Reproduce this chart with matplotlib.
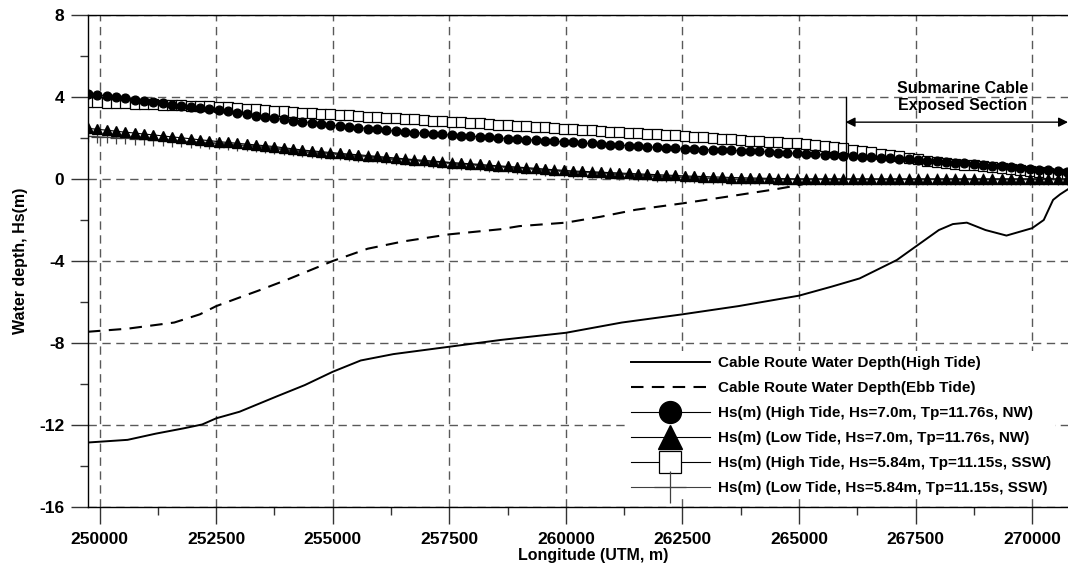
import numpy as np
import matplotlib
matplotlib.use("Agg")
import matplotlib.pyplot as plt
from matplotlib.ticker import MultipleLocator

plt.rcParams['font.family'] = ['Liberation Sans', 'DejaVu Sans']
plt.rcParams['font.weight'] = 'bold'
plt.rcParams['axes.unicode_minus'] = False

# Hs stations (UTM easting, every 200 m)
hs_x = np.arange(249750, 270751, 200)

hs_high_nw = [4.15, 4.10, 4.04, 3.99, 3.93, 3.87, 3.81, 3.74, 3.68, 3.63,
              3.58, 3.52, 3.47, 3.41, 3.36, 3.29, 3.23, 3.16, 3.09, 3.03,
              2.96, 2.90, 2.85, 2.79, 2.74, 2.68, 2.63, 2.58, 2.54, 2.50,
              2.46, 2.42, 2.37, 2.33, 2.29, 2.26, 2.23, 2.20, 2.17, 2.14,
              2.11, 2.08, 2.06, 2.03, 2.00, 1.97, 1.95, 1.92, 1.89, 1.86,
              1.84, 1.81, 1.78, 1.75, 1.73, 1.70, 1.67, 1.65, 1.62, 1.59,
              1.57, 1.54, 1.51, 1.49, 1.46, 1.45, 1.43, 1.42, 1.40, 1.39,
              1.37, 1.36, 1.34, 1.32, 1.29, 1.27, 1.25, 1.22, 1.20, 1.17,
              1.15, 1.12, 1.10, 1.07, 1.05, 1.02, 1.00, 0.97, 0.95, 0.92,
              0.89, 0.86, 0.82, 0.79, 0.76, 0.72, 0.68, 0.65, 0.61, 0.57,
              0.53, 0.50, 0.46, 0.42, 0.39, 0.35]

hs_low_nw = [2.47, 2.42, 2.38, 2.33, 2.28, 2.24, 2.19, 2.15, 2.10, 2.05,
             2.01, 1.96, 1.91, 1.87, 1.82, 1.78, 1.74, 1.70, 1.66, 1.62,
             1.58, 1.52, 1.47, 1.41, 1.37, 1.33, 1.29, 1.25, 1.21, 1.18,
             1.14, 1.10, 1.06, 1.02, 0.98, 0.94, 0.91, 0.87, 0.84, 0.80,
             0.77, 0.74, 0.71, 0.67, 0.64, 0.61, 0.58, 0.55, 0.52, 0.48,
             0.45, 0.42, 0.39, 0.37, 0.35, 0.33, 0.31, 0.29, 0.27, 0.25,
             0.23, 0.21, 0.19, 0.17, 0.15, 0.13, 0.12, 0.10, 0.09, 0.07,
             0.06, 0.05, 0.04, 0.03, 0.02, 0.01, 0.00, 0.00, 0.00, 0.00,
             0.00, 0.00, 0.00, 0.00, 0.00, 0.00, 0.00, 0.00, 0.00, 0.00,
             0.00, 0.00, 0.00, 0.00, 0.00, 0.00, 0.00, 0.00, 0.00, 0.00,
             0.00, 0.00, 0.00, 0.00, 0.00, 0.00]

hs_high_ssw = [3.75, 3.73, 3.72, 3.70, 3.68, 3.67, 3.65, 3.64, 3.62, 3.60,
               3.59, 3.57, 3.55, 3.54, 3.52, 3.49, 3.45, 3.42, 3.39, 3.35,
               3.32, 3.29, 3.26, 3.24, 3.21, 3.18, 3.15, 3.12, 3.10, 3.07,
               3.04, 3.01, 2.99, 2.96, 2.93, 2.90, 2.88, 2.85, 2.83, 2.80,
               2.77, 2.74, 2.71, 2.68, 2.65, 2.62, 2.60, 2.57, 2.54, 2.51,
               2.48, 2.45, 2.42, 2.39, 2.37, 2.34, 2.31, 2.29, 2.26, 2.23,
               2.21, 2.18, 2.15, 2.13, 2.10, 2.07, 2.03, 2.00, 1.96, 1.93,
               1.89, 1.86, 1.84, 1.81, 1.79, 1.76, 1.74, 1.69, 1.64, 1.60,
               1.55, 1.50, 1.43, 1.36, 1.30, 1.23, 1.16, 1.10, 1.03, 0.96,
               0.90, 0.85, 0.80, 0.75, 0.70, 0.66, 0.61, 0.57, 0.52, 0.48,
               0.43, 0.39, 0.34, 0.30, 0.26, 0.22]

hs_low_ssw = [2.08, 2.06, 2.03, 2.01, 1.99, 1.96, 1.94, 1.91, 1.89, 1.87,
              1.84, 1.82, 1.80, 1.77, 1.75, 1.71, 1.67, 1.64, 1.60, 1.56,
              1.52, 1.47, 1.41, 1.36, 1.32, 1.29, 1.25, 1.21, 1.17, 1.14,
              1.10, 1.06, 1.02, 0.99, 0.95, 0.91, 0.88, 0.84, 0.81, 0.77,
              0.74, 0.71, 0.68, 0.64, 0.61, 0.58, 0.55, 0.52, 0.49, 0.45,
              0.42, 0.39, 0.36, 0.34, 0.32, 0.30, 0.27, 0.25, 0.23, 0.21,
              0.19, 0.16, 0.14, 0.12, 0.10, 0.08, 0.06, 0.04, 0.02, 0.00,
              0.00, 0.00, 0.00, 0.00, 0.00, 0.00, 0.00, 0.00, 0.00, 0.00,
              0.00, 0.00, 0.00, 0.00, 0.00, 0.00, 0.00, 0.00, 0.00, 0.00,
              0.00, 0.00, 0.00, 0.00, 0.00, 0.00, 0.00, 0.00, 0.00, 0.00,
              0.00, 0.00, 0.00, 0.00, 0.00, 0.00]

# cable route water depth (high tide)
depth_high_x = [249750, 250600, 251200, 251800, 252200, 252500, 253000, 253800,
                254400, 255000, 255600, 256300, 257500, 258600, 260000, 261200,
                262500, 263700, 265000, 265700, 266300, 267100, 267500, 268000,
                268300, 268600, 269000, 269450, 270000, 270250, 270450, 270600,
                270770]
depth_high = [-12.85, -12.72, -12.42, -12.16, -11.97, -11.67, -11.35, -10.6,
              -10.05, -9.4, -8.85, -8.54, -8.18, -7.85, -7.5, -7.0,
              -6.6, -6.2, -5.69, -5.25, -4.85, -3.95, -3.3, -2.49,
              -2.2, -2.13, -2.49, -2.76, -2.4, -2.0, -1.02, -0.75,
              -0.5]

# cable route water depth (ebb tide)
depth_ebb_x = [249750, 250600, 251600, 252150, 252500, 253000, 253400, 254000,
               255000, 255750, 256500, 257500, 258600, 259000, 260000, 260750,
               261500, 262500, 263500, 264500, 265000, 265300]
depth_ebb = [-7.45, -7.3, -7.0, -6.6, -6.2, -5.78, -5.45, -4.93,
             -4.0, -3.4, -3.05, -2.7, -2.45, -2.3, -2.13, -1.84,
             -1.5, -1.19, -0.85, -0.5, -0.3, -0.12]

exposed_start = 266000
exposed_end = 270770

fig = plt.figure(figsize=(10.68, 5.73), dpi=100)
ax = fig.add_axes([0.0824, 0.115, 0.9176, 0.859])

ax.plot(depth_high_x, depth_high, color='black', lw=1.4,
        label='Cable Route Water Depth(High Tide)')
ax.plot(depth_ebb_x, depth_ebb, color='black', lw=1.5, dashes=(6, 4),
        label='Cable Route Water Depth(Ebb Tide)')
ax.plot(hs_x, hs_high_ssw, color='black', lw=0.8, marker='s', ms=6.5,
        mfc='white', mec='black', mew=0.9,
        label='Hs(m) (High Tide, Hs=5.84m, Tp=11.15s, SSW)')
ax.plot(hs_x, hs_low_ssw, color='0.25', lw=0.8, marker='+', ms=9, mew=0.9,
        label='Hs(m) (Low Tide, Hs=5.84m, Tp=11.15s, SSW)')
ax.plot(hs_x, hs_high_nw, color='black', lw=0.8, marker='o', ms=6.3,
        label='Hs(m) (High Tide, Hs=7.0m, Tp=11.76s, NW)')
ax.plot(hs_x, hs_low_nw, color='black', lw=0.8, marker='^', ms=7,
        label='Hs(m) (Low Tide, Hs=7.0m, Tp=11.76s, NW)')

# exposed section annotation
ax.plot([exposed_start, exposed_start], [0, 4], color='black', lw=1)
ax.annotate('', xy=(exposed_end, 2.77), xytext=(exposed_start, 2.77),
            arrowprops=dict(arrowstyle='<|-|>', color='black', lw=1,
                            mutation_scale=14, shrinkA=0, shrinkB=0),
            annotation_clip=False)
ax.text(268500, 4.0, 'Submarine Cable\nExposed Section', ha='center',
        va='center', fontsize=11.5, fontweight='bold', linespacing=1.2)

ax.set_xlim(249750, 270770)
ax.set_ylim(-16, 8)
ax.xaxis.set_major_locator(MultipleLocator(2500))
ax.xaxis.set_minor_locator(MultipleLocator(1250))
ax.yaxis.set_major_locator(MultipleLocator(4))
ax.yaxis.set_minor_locator(MultipleLocator(2))
ax.tick_params(which='major', direction='out', length=12, width=1,
               labelsize=12.5, color='0.2')
ax.tick_params(which='minor', direction='out', length=6, width=1, color='0.2')
ax.tick_params(axis='x', pad=6)
ax.tick_params(axis='y', pad=5)
for lab in ax.get_xticklabels() + ax.get_yticklabels():
    lab.set_fontweight('bold')

ax.grid(True, which='major', color='0.35', lw=1, dashes=(6, 4))
ax.spines['right'].set_visible(False)
for s in ['left', 'top', 'bottom']:
    ax.spines[s].set_linewidth(1)

ax.set_xlabel('Longitude (UTM, m)', fontsize=11.5, fontweight='bold')
ax.set_ylabel('Water depth, Hs(m)', fontsize=11.5, fontweight='bold', labelpad=8)
ax.xaxis.set_label_coords(0.515, -0.083)

handles, labels = ax.get_legend_handles_labels()
order = [0, 1, 4, 5, 2, 3]
leg = ax.legend([handles[i] for i in order], [labels[i] for i in order],
                loc='lower right', bbox_to_anchor=(0.995, 0.0),
                markerscale=2.5, handlelength=5.2,
                handletextpad=0.5, labelspacing=0.72, frameon=True,
                borderpad=0.3, prop={'weight': 'bold', 'size': 11})
leg.get_frame().set_facecolor('white')
leg.get_frame().set_edgecolor('none')
leg.get_frame().set_alpha(1)

fig.savefig('out.png', dpi=100)
